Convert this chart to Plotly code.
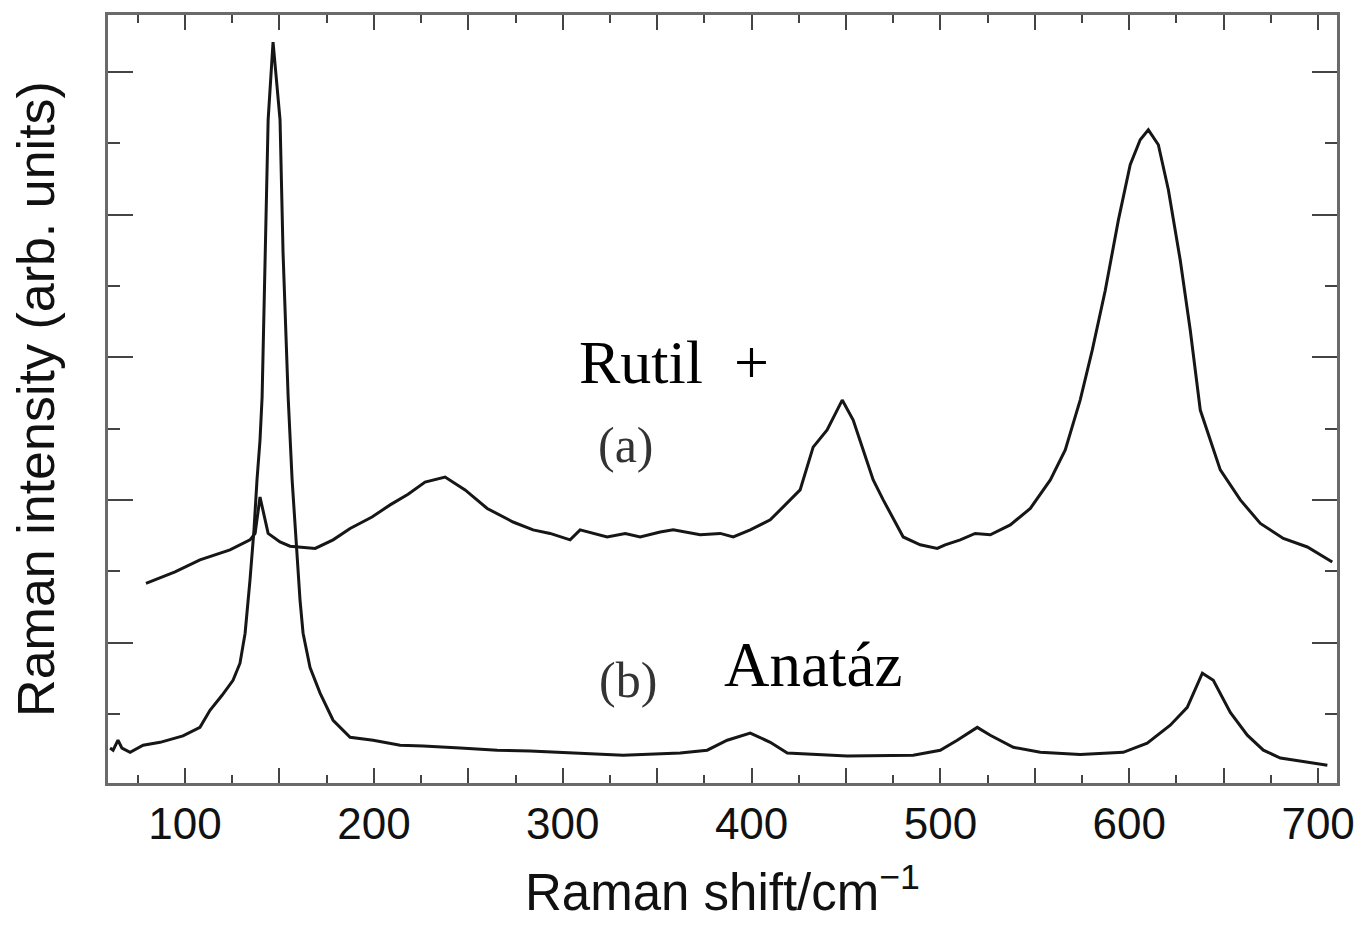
import plotly.graph_objects as go

# Curve (a): Rutile + Anatase mixture
shift_a = [79.3, 94.7, 107.9, 123.8, 134.4, 137.1, 139.7, 141.8, 144.0, 150.3, 155.6, 168.9,
           178.4, 187.4, 199.0, 208.6, 218.1, 227.1, 237.7, 248.3, 260.0, 273.7, 284.3, 293.3,
           303.9, 309.2, 323.5, 333.1, 341.0, 351.6, 358.5, 372.8, 383.4, 390.3, 399.3, 409.9,
           417.8, 425.7, 432.6, 440.0, 448.0, 453.8, 459.1, 464.4, 469.7, 480.3, 489.3, 498.3,
           502.5, 510.5, 518.4, 526.4, 537.0, 547.6, 558.2, 566.1, 574.0, 580.4, 587.3, 594.2,
           600.5, 605.8, 610.1, 615.4, 620.7, 627.0, 632.3, 637.6, 648.2, 658.8, 669.4, 681.6,
           694.3, 707.5]
intensity_a = [2.83, 2.99, 3.16, 3.30, 3.44, 3.53, 4.04, 3.79, 3.53, 3.41, 3.35, 3.32,
               3.44, 3.60, 3.76, 3.93, 4.08, 4.25, 4.32, 4.14, 3.88, 3.69, 3.58, 3.53,
               3.44, 3.58, 3.48, 3.53, 3.48, 3.55, 3.58, 3.51, 3.53, 3.48, 3.58, 3.72,
               3.93, 4.14, 4.74, 4.98, 5.40, 5.12, 4.70, 4.28, 4.00, 3.48, 3.37, 3.32,
               3.37, 3.44, 3.53, 3.51, 3.65, 3.88, 4.28, 4.70, 5.40, 6.10, 6.94, 7.92,
               8.70, 9.05, 9.19, 8.98, 8.35, 7.36, 6.38, 5.26, 4.42, 4.00, 3.67, 3.46,
               3.34, 3.13]

# Curve (b): Anatase
shift_b = [60.3, 61.9, 64.5, 66.6, 70.9, 77.8, 86.8, 98.9, 107.9, 113.2, 119.6, 125.4,
           129.1, 131.8, 134.4, 136.5, 138.1, 139.7, 140.8, 142.4, 144.0, 146.6, 150.3, 151.9,
           154.6, 156.7, 159.3, 160.9, 162.5, 166.2, 171.5, 178.4, 187.4, 199.6, 213.9, 226.1,
           245.7, 265.3, 282.7, 300.2, 332.0, 362.2, 376.5, 387.1, 399.3, 409.9, 418.9, 450.6,
           468.1, 485.6, 499.9, 508.9, 519.5, 526.4, 538.6, 552.9, 574.0, 596.8, 609.5, 621.7,
           630.7, 638.7, 644.5, 653.5, 662.5, 671.0, 680.0, 697.5, 704.9]
intensity_b = [0.52, 0.49, 0.63, 0.52, 0.46, 0.56, 0.60, 0.69, 0.81, 1.05, 1.26, 1.47,
               1.71, 2.13, 2.88, 3.58, 4.28, 4.84, 5.44, 7.46, 9.33, 10.42, 9.33, 7.46,
               5.44, 4.28, 3.25, 2.59, 2.13, 1.65, 1.29, 0.91, 0.67, 0.63, 0.56, 0.55,
               0.52, 0.49, 0.48, 0.46, 0.42, 0.45, 0.49, 0.63, 0.73, 0.60, 0.45, 0.41,
               0.41, 0.42, 0.49, 0.63, 0.81, 0.70, 0.53, 0.46, 0.43, 0.46, 0.59, 0.84,
               1.09, 1.57, 1.47, 1.02, 0.70, 0.49, 0.38, 0.31, 0.28]

x_label_ticks = [100, 200, 300, 400, 500, 600, 700]
x_mid_ticks = [150, 250, 350, 450, 550, 650]

x_range = [59.2, 710]
line_col = "#161616"
frame_col = "#6a6a6a"
tick_col = "#444"

fig = go.Figure()
fig.add_trace(go.Scatter(x=shift_a, y=intensity_a, mode="lines",
                         line=dict(color=line_col, width=3), showlegend=False))
fig.add_trace(go.Scatter(x=shift_b, y=intensity_b, mode="lines",
                         line=dict(color=line_col, width=3), showlegend=False))

serif = "Liberation Serif, Times New Roman, serif"
fig.add_annotation(x=307.6, y=5.93, xref="x", yref="y", text="Rutil  +", showarrow=False,
                   xanchor="left", yanchor="middle", font=dict(family=serif, size=62, color="#000"))
fig.add_annotation(x=333.6, y=4.77, xref="x", yref="y", text="(a)", showarrow=False,
                   xanchor="center", yanchor="middle", font=dict(family=serif, size=50, color="#333"))
fig.add_annotation(x=334.6, y=1.47, xref="x", yref="y", text="(b)", showarrow=False,
                   xanchor="center", yanchor="middle", font=dict(family=serif, size=50, color="#333"))
fig.add_annotation(x=384.4, y=1.68, xref="x", yref="y", text="Anatáz", showarrow=False,
                   xanchor="left", yanchor="middle", font=dict(family=serif, size=63, color="#000"))

sans = "Liberation Sans, Arial, sans-serif"
fig.update_layout(
    xaxis=dict(range=x_range, tickvals=x_label_ticks,
               ticks="inside", ticklen=15, tickwidth=2, tickcolor=tick_col,
               minor=dict(dtick=25, tick0=0, ticks="inside", ticklen=8, tickwidth=2, tickcolor=tick_col),
               showline=True, linecolor=frame_col, linewidth=3, mirror="ticks",
               showgrid=False, zeroline=False,
               tickfont=dict(family=sans, size=44, color="#111"),
               title=dict(text="Raman shift/cm<sup>−1</sup>", font=dict(family=sans, size=51, color="#111"),
                          standoff=28)),
    xaxis2=dict(range=x_range, overlaying="x", matches="x", side="bottom", tickvals=x_mid_ticks,
                ticks="inside", ticklen=15, tickwidth=2, tickcolor=tick_col,
                showticklabels=False, showline=True, linecolor=frame_col, linewidth=3, mirror="ticks",
                showgrid=False, zeroline=False),
    yaxis=dict(range=[0.03, 10.8], tickvals=[2, 4, 6, 8, 10], showticklabels=False,
               ticks="inside", ticklen=25, tickwidth=2, tickcolor=tick_col,
               minor=dict(dtick=1, tick0=0, ticks="inside", ticklen=12, tickwidth=2, tickcolor=tick_col),
               showline=True, linecolor=frame_col, linewidth=3, mirror="ticks",
               showgrid=False, zeroline=False,
               title=dict(text="Raman intensity (arb. units)", font=dict(family=sans, size=52, color="#111"),
                          standoff=34)),
    width=1362, height=925, margin=dict(l=108, r=25, t=15, b=142, autoexpand=False),
    paper_bgcolor="white", plot_bgcolor="white",
)
# invisible helper trace so the second x axis (mid ticks) is drawn
fig.add_trace(go.Scatter(x=[x_range[0]], y=[0.03], xaxis="x2", yaxis="y", mode="markers",
                         marker=dict(opacity=0), hoverinfo="skip", showlegend=False))

fig.write_html("out.html")
